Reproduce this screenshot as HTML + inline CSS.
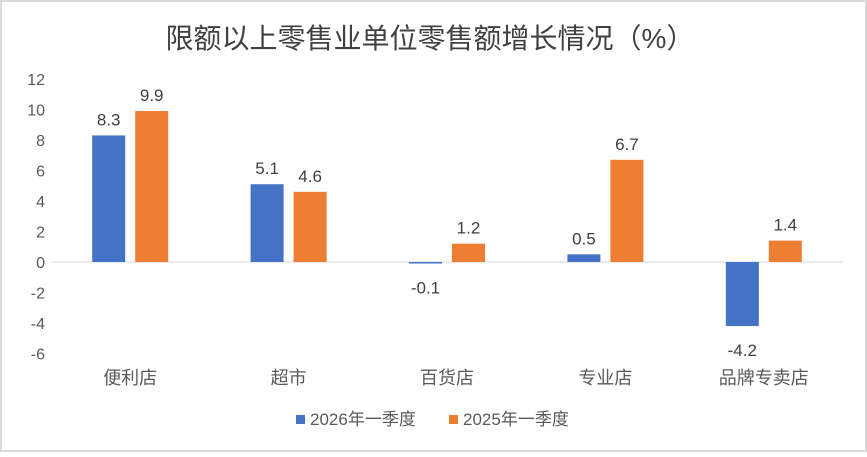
<!DOCTYPE html>
<html><head><meta charset="utf-8"><style>
body{margin:0;background:#fff}
svg text{font-family:"Liberation Sans","Noto Sans CJK SC",sans-serif}
</style></head><body>
<svg id="c" width="867" height="452">
<rect x="1" y="1" width="865" height="450" fill="#fff" stroke="#d9d9d9" stroke-width="2"/>
<text x="430" y="48" text-anchor="middle" font-size="28" fill="#404040">限额以上零售业单位零售额增长情况（%）</text>
<g id="ax"></g><g id="bars"></g>
<g>
<rect x="296" y="415" width="9" height="9" fill="#4472c4"/>
<text x="310" y="425" font-size="17" fill="#595959">2026年一季度</text>
<rect x="449" y="415" width="9" height="9" fill="#ed7d31"/>
<text x="463" y="425" font-size="17" fill="#595959">2025年一季度</text>
</g>
</svg>
<script>
const categories=["便利店","超市","百货店","专业店","品牌专卖店"];
const s2026=[8.3,5.1,-0.1,0.5,-4.2];
const s2025=[9.9,4.6,1.2,6.7,1.4];
const yTicks=[12,10,8,6,4,2,0,-2,-4,-6];
const NS="http://www.w3.org/2000/svg";
const y=v=>262-v*15.25;
const x0=51,step=158.4;
const cx=i=>x0+step*(i+0.5);
const ax=document.getElementById('ax'),bg=document.getElementById('bars');
function mk(tag,a,p,t){const e=document.createElementNS(NS,tag);for(const k in a)e.setAttribute(k,a[k]);if(t!==undefined)e.textContent=t;p.appendChild(e);return e;}
yTicks.forEach(v=>{const e=mk('text',{x:45,y:y(v)+6,'text-anchor':'end','font-size':16,fill:'#595959'},ax,String(v));

});
const zl=mk('line',{x1:x0,x2:843,y1:y(0),y2:y(0),stroke:'#d9d9d9','stroke-width':1},ax);


categories.forEach((c,i)=>{
const t=mk('text',{x:cx(i),y:384,'text-anchor':'middle','font-size':18,fill:'#595959'},ax,c);


[[s2026[i],-21.5,'#4472c4','2026'],[s2025[i],21.5,'#ed7d31','2025']].forEach(([v,o,col,n])=>{
const bx=cx(i)+o-16.5,top=Math.min(y(v),y(0)),h=Math.abs(y(v)-y(0));
const r=mk('rect',{x:bx,y:top,width:33,height:h,fill:col},bg);


const ly=v>=0?y(v)-10:y(v)+30;
const l=mk('text',{x:cx(i)+o,y:ly,'text-anchor':'middle','font-size':17,fill:'#404040'},bg,v.toFixed(1));


});});
</script>
</body></html>
